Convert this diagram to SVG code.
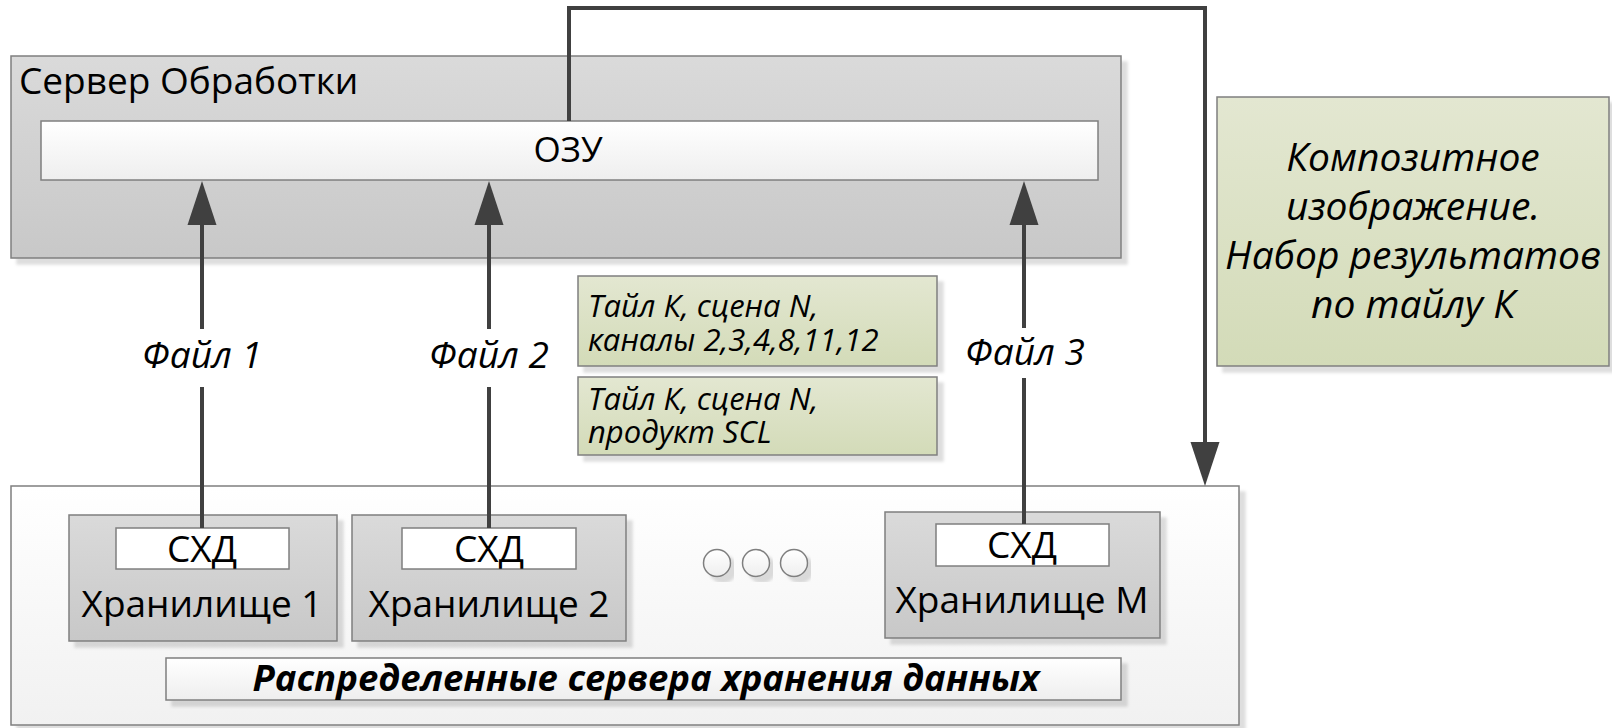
<svg xmlns="http://www.w3.org/2000/svg" width="1612" height="728" viewBox="0 0 1612 728">
  <defs>
    <linearGradient id="gGray" x1="0" y1="0" x2="0" y2="1">
      <stop offset="0" stop-color="#dadada"/>
      <stop offset="1" stop-color="#c8c8c8"/>
    </linearGradient>
    <linearGradient id="gWhite" x1="0" y1="0" x2="0" y2="1">
      <stop offset="0" stop-color="#ffffff"/>
      <stop offset="1" stop-color="#eeeeee"/>
    </linearGradient>
    <linearGradient id="gPale" x1="0" y1="0" x2="0" y2="1">
      <stop offset="0" stop-color="#ffffff"/>
      <stop offset="1" stop-color="#f1f1f1"/>
    </linearGradient>
    <linearGradient id="gGreen" x1="0" y1="0" x2="0" y2="1">
      <stop offset="0" stop-color="#e3e7d1"/>
      <stop offset="1" stop-color="#d3dbb8"/>
    </linearGradient>
    <filter id="shadow" x="-5%" y="-5%" width="115%" height="125%">
      <feDropShadow dx="6" dy="6" stdDeviation="1.5" flood-color="#000" flood-opacity="0.13"/>
    </filter>
    <marker id="head" markerUnits="userSpaceOnUse" markerWidth="46" markerHeight="32" viewBox="0 -16 46 32" refX="0" refY="0" orient="auto">
      <path d="M0,-14.5 L44,0 L0,14.5 z" fill="#404040"/>
    </marker>
    <style>
      .box { stroke: #7f7f7f; stroke-width: 1.5; }
      .gray { fill: url(#gGray); }
      .white { fill: url(#gWhite); }
      .pale { fill: url(#gPale); }
      .green { fill: url(#gGreen); }
      .sh { filter: url(#shadow); }
      .t { font-family: "Open Sans", "Noto Sans", sans-serif; fill: #000; }
      .n { font-size: 37px; }
      .i { font-style: italic; }
      .c { text-anchor: middle; }
      .link { fill: none; stroke: #404040; stroke-width: 4; }
      .lbl { fill: #ffffff; }
    </style>
  </defs>

  <rect width="1612" height="728" fill="#ffffff"/>

  <!-- processing server with its RAM block -->
  <g id="server">
    <rect class="box gray sh" x="11" y="56" width="1110" height="202"/>
    <text class="t n" x="19" y="94">Сервер Обработки</text>
  </g>
  <g id="ram">
    <rect class="box white" x="41" y="121" width="1057" height="59"/>
    <text class="t c" font-size="35" x="568" y="162">ОЗУ</text>
  </g>

  <!-- result note -->
  <g id="composite">
    <rect class="box green sh" x="1217" y="97" width="392" height="269"/>
    <text class="t i c" font-size="39" x="1413" y="171">Композитное</text>
    <text class="t i c" font-size="39" x="1413" y="220">изображение.</text>
    <text class="t i c" font-size="39" x="1413" y="269">Набор результатов</text>
    <text class="t i c" font-size="39" x="1413" y="318">по тайлу К</text>
  </g>

  <!-- file notes -->
  <g id="note-channels">
    <rect class="box green sh" x="578" y="276" width="359" height="90"/>
    <text class="t i" font-size="31" x="588" y="317">Тайл К, сцена N,</text>
    <text class="t i" font-size="31" x="588" y="351">каналы 2,3,4,8,11,12</text>
  </g>
  <g id="note-product">
    <rect class="box green sh" x="578" y="377" width="359" height="78"/>
    <text class="t i" font-size="31" x="588" y="410">Тайл К, сцена N,</text>
    <text class="t i" font-size="31" x="588" y="443">продукт SCL</text>
  </g>

  <!-- distributed storage -->
  <g id="storage">
    <rect class="box pale sh" x="11" y="486" width="1228" height="239"/>
  </g>
  <g id="store-1">
    <rect class="box gray sh" x="69" y="515" width="268" height="126"/>
    <rect class="box" fill="#ffffff" x="116" y="528" width="173" height="41"/>
    <text class="t n c" x="202" y="562">СХД</text>
    <text class="t n c" x="202" y="617">Хранилище 1</text>
  </g>
  <g id="store-2">
    <rect class="box gray sh" x="352" y="515" width="274" height="126"/>
    <rect class="box" fill="#ffffff" x="402" y="528" width="174" height="41"/>
    <text class="t n c" x="489" y="562">СХД</text>
    <text class="t n c" x="489" y="617">Хранилище 2</text>
  </g>
  <g id="ellipsis">
    <circle class="box white sh" cx="717" cy="563" r="13.5"/>
    <circle class="box white sh" cx="756" cy="563" r="13.5"/>
    <circle class="box white sh" cx="794" cy="563" r="13.5"/>
  </g>
  <g id="store-m">
    <rect class="box gray sh" x="885" y="512" width="275" height="126"/>
    <rect class="box" fill="#ffffff" x="936" y="524" width="173" height="42"/>
    <text class="t n c" x="1022" y="558">СХД</text>
    <text class="t n c" x="1022" y="613">Хранилище М</text>
  </g>
  <g id="storage-title">
    <rect class="box white sh" x="166" y="658" width="955" height="42"/>
    <text class="t i c" font-size="36.5" font-weight="bold" x="646" y="691">Распределенные сервера хранения данных</text>
  </g>

  <!-- connectors -->
  <g id="connectors">
    <path class="link" d="M202,528 V225" marker-end="url(#head)"/>
    <path class="link" d="M489,528 V225" marker-end="url(#head)"/>
    <path class="link" d="M1024,524 V225" marker-end="url(#head)"/>
    <path class="link" stroke-width="3.5" d="M569,121 V8 H1205 V442" marker-end="url(#head)"/>
    <rect class="lbl" x="136" y="329" width="134" height="58"/>
    <text class="t i c" font-size="37" x="202" y="368">Файл 1</text>
    <rect class="lbl" x="422" y="329" width="134" height="58"/>
    <text class="t i c" font-size="37" x="489" y="368">Файл 2</text>
    <rect class="lbl" x="957" y="328" width="134" height="50"/>
    <text class="t i c" font-size="37" x="1025" y="365">Файл 3</text>
  </g>
</svg>
